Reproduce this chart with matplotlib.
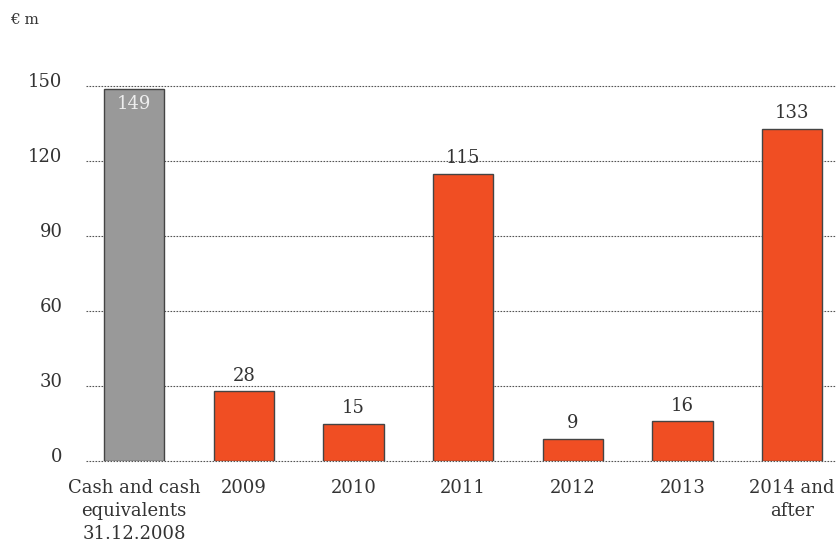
import matplotlib.pyplot as plt
import matplotlib.transforms as mtransforms

categories = ['Cash and cash\nequivalents\n31.12.2008', '2009', '2010', '2011',
              '2012', '2013', '2014 and\nafter']
values = [149, 28, 15, 115, 9, 16, 133]
yticks = [0, 30, 60, 90, 120, 150]

plt.rcParams['font.family'] = ['DejaVu Serif']
text_color = '#333333'

fig = plt.figure(figsize=(8.37, 5.44), dpi=100)
ax = fig.add_axes([86 / 837, 1 - 461 / 544, 1 - 86 / 837, 380 / 544])

colors = ['#999999'] + ['#f04e23'] * (len(values) - 1)
x = range(len(categories))
bars = ax.bar(x, values, width=0.55, color=colors, edgecolor='#444444',
              linewidth=1.0, zorder=3)

for i, v in enumerate(values):
    if i == 0:
        ax.text(i, v - 2.5, str(v), ha='center', va='top', fontsize=13,
                color='#eeeeee', zorder=4)
    else:
        ax.text(i, v + 2.5, str(v), ha='center', va='bottom', fontsize=13,
                color=text_color, zorder=4)

ax.set_xlim(-0.44, 6.41)
ax.set_ylim(0, 152)
ax.set_yticks(yticks)
ax.set_yticklabels([str(t) for t in yticks], fontsize=13, color=text_color)
ax.set_xticks(list(x))
ax.set_xticklabels(categories, fontsize=13, color=text_color, linespacing=1.35)
ax.tick_params(axis='both', length=0)
ax.tick_params(axis='y', pad=17)
ax.tick_params(axis='x', pad=13)

# lift y labels a little above their gridlines
offset = mtransforms.ScaledTranslation(0, 6 / 100, fig.dpi_scale_trans)
for lbl in ax.get_yticklabels():
    lbl.set_transform(lbl.get_transform() + offset)

ax.grid(True, axis='y', color='#555555', linestyle=(0, (1.5, 1.2)),
        linewidth=0.8, zorder=1)
for gl in ax.get_ygridlines():
    gl.set_clip_on(False)
for s in ax.spines.values():
    s.set_visible(False)

fig.text(10 / 837, 1 - 20 / 544, '€ m', fontsize=11, color=text_color,
         va='center', ha='left')

fig.savefig('out.png', dpi=100)
